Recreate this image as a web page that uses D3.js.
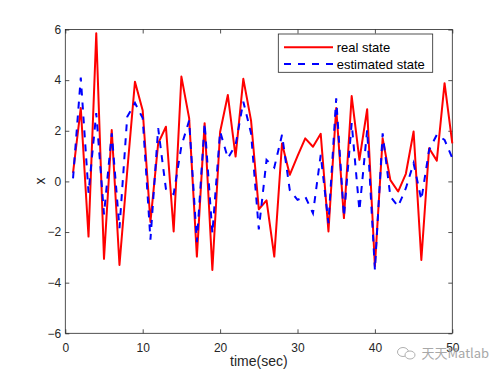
<!DOCTYPE html>
<html><head><meta charset="utf-8">
<script src="https://cdn.jsdelivr.net/npm/d3@7"></script>
<style>body{margin:0;background:#fff;} svg{display:block;font-family:"Liberation Sans",Arial,sans-serif;}</style>
</head><body><svg width="500" height="375"></svg>
<script>
const timeSec = [1,2,3,4,5,6,7,8,9,10,11,12,13,14,15,16,17,18,19,20,21,22,23,24,25,26,27,28,29,30,31,32,33,34,35,36,37,38,39,40,41,42,43,44,45,46,47,48,49,50];
const realState = [0.34,2.9,-2.18,5.85,-3.06,2.03,-3.3,0.4,3.94,2.8,-1.6,1.5,2.16,-1.98,4.14,2.5,-2.97,2.3,-3.5,1.95,3.41,0.98,4.05,2.4,-1.1,-0.75,-2.97,1.5,0.26,1.0,1.7,1.37,1.88,-1.98,2.9,-1.45,3.37,0.85,2.85,-3.35,1.7,0.05,-0.4,0.3,1.97,-3.1,1.31,0.82,3.88,1.5];
const estimatedState = [0.12,4.1,-0.45,2.7,-1.3,1.9,-1.85,2.55,3.1,2.5,-2.3,2.1,-0.3,-0.5,1.4,2.4,-2.4,2.3,-2.05,1.97,0.92,1.44,3.15,1.9,-1.9,0.85,0.55,1.84,-0.34,-0.73,-0.6,-1.26,1.05,-1.65,3.28,-1.39,2.3,-1.15,2.03,-3.49,1.9,-0.6,-0.99,-0.27,0.72,-0.73,1.24,1.84,1.64,0.92];
const xTicks = [0,10,20,30,40,50];
const yTicks = [-6,-4,-2,0,2,4,6];
const legendLabels = ["real state","estimated state"];

const svg = d3.select("svg");
const L = 65.3, R = 452.3, T = 29.5, B = 333.3;
const x = d3.scaleLinear().domain([0,50]).range([L,R]);
const y = d3.scaleLinear().domain([-6,6]).range([B,T]);
const axCol = "#262626";

// axes
const gB = svg.append("g").attr("transform",`translate(0,${B})`)
  .call(d3.axisBottom(x).tickValues(xTicks).tickSize(-4).tickPadding(9.7).tickFormat(d3.format("d")));
const gT = svg.append("g").attr("transform",`translate(0,${T})`)
  .call(d3.axisTop(x).tickValues(xTicks).tickSize(-4).tickFormat(""));
const gL = svg.append("g").attr("transform",`translate(${L},0)`)
  .call(d3.axisLeft(y).tickValues(yTicks).tickSize(-4).tickPadding(4).tickFormat(d3.format("d")));
const gR = svg.append("g").attr("transform",`translate(${R},0)`)
  .call(d3.axisRight(y).tickValues(yTicks).tickSize(-4).tickFormat(""));
[gB,gT,gL,gR].forEach(g=>{
  g.select(".domain").remove();
  g.selectAll("line").attr("stroke",axCol).attr("stroke-width",0.8);
  g.selectAll("text").attr("fill",axCol).attr("font-size",12).attr("font-family","Liberation Sans, Arial, sans-serif");
});
svg.append("rect").attr("x",L).attr("y",T).attr("width",R-L).attr("height",B-T)
  .attr("fill","none").attr("stroke",axCol).attr("stroke-width",0.8);

// lines
const line = d3.line().x((d,i)=>x(timeSec[i])).y(d=>y(d));
svg.append("path").datum(realState).attr("d",line).attr("fill","none")
  .attr("stroke","#ff0000").attr("stroke-width",2).attr("stroke-linejoin","round");
svg.append("path").datum(estimatedState).attr("d",line).attr("fill","none")
  .attr("stroke","#0000ff").attr("stroke-width",2).attr("stroke-dasharray","7,7");

// labels
svg.append("text").attr("x",(L+R)/2).attr("y",366).attr("text-anchor","middle")
  .attr("font-size",14).attr("fill",axCol).text("time(sec)");
svg.append("text").attr("transform","translate(45,181) rotate(-90)").attr("text-anchor","middle")
  .attr("font-size",14).attr("fill",axCol).text("x");

// legend
const lg = svg.append("g");
lg.append("rect").attr("x",278.3).attr("y",34).attr("width",154.4).attr("height",38.3)
  .attr("fill","#fff").attr("stroke",axCol).attr("stroke-width",0.8);
const legendColors = ["#ff0000","#0000ff"];
const legendDash = [null,"7,7"];
legendLabels.forEach((lab,i)=>{
  const yy = 47.3 + i*16.7;
  lg.append("line").attr("x1",284).attr("x2",333).attr("y1",yy).attr("y2",yy)
    .attr("stroke",legendColors[i]).attr("stroke-width",2).attr("stroke-dasharray",legendDash[i]);
  lg.append("text").attr("x",336.7).attr("y",yy+4.6).attr("font-size",13).attr("fill","#000").text(lab);
});

// watermark
const wm = svg.append("g").attr("fill","none").attr("stroke","#b0b0b0").attr("stroke-width",1);
wm.append("ellipse").attr("cx",403).attr("cy",352).attr("rx",5.5).attr("ry",4.5);
wm.append("ellipse").attr("cx",410).attr("cy",355).attr("rx",5).attr("ry",4).attr("fill","#fff");
svg.append("text").attr("x",421.5).attr("y",358).attr("font-size",13).attr("fill","#a8a8a8")
  .attr("font-family","Noto Sans CJK SC, sans-serif").text("天天Matlab");
</script></body></html>
